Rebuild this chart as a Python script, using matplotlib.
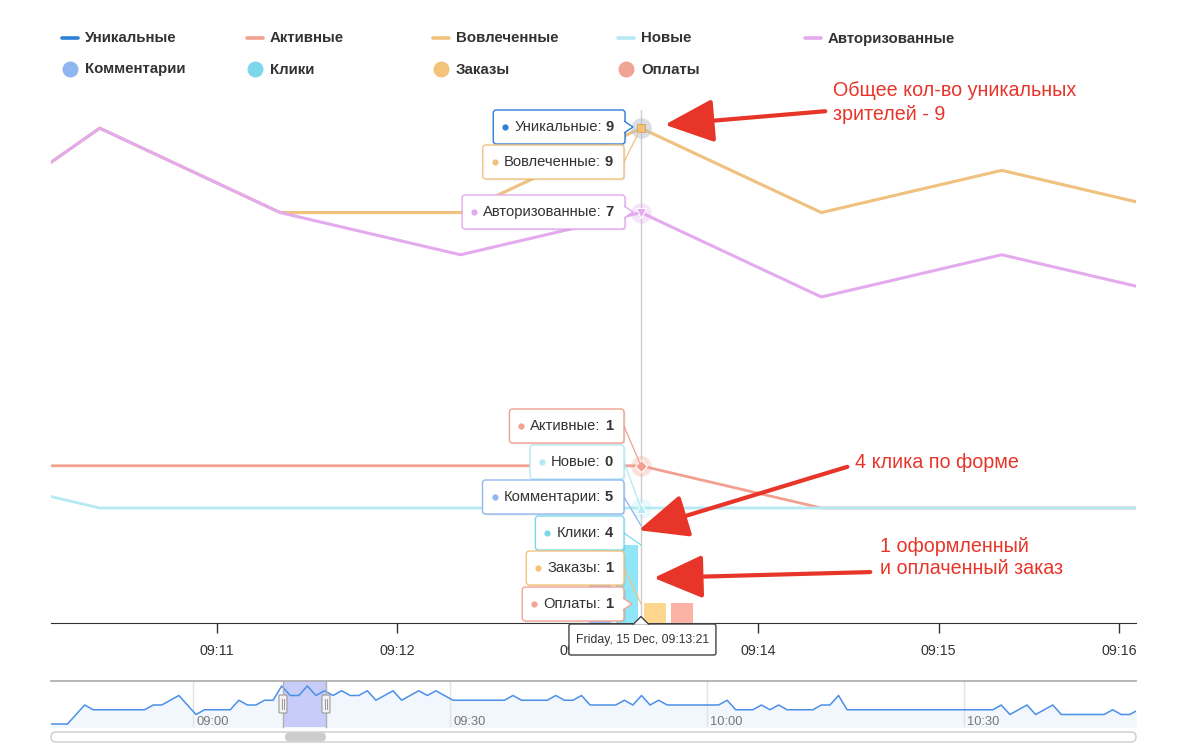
import matplotlib.pyplot as plt
from matplotlib.patches import FancyBboxPatch, Polygon, FancyArrowPatch
import numpy as np

plt.rcParams['font.family'] = ['Liberation Sans', 'DejaVu Sans']

# main chart: one point per minute
times = ['09:09:21', '09:10:21', '09:11:21', '09:12:21', '09:13:21',
         '09:14:21', '09:15:21', '09:16:21']
engaged = [6, 9, 7, 7, 9, 7, 8, 7]
authorized = [6, 9, 7, 6, 7, 5, 6, 5]
active = [1, 1, 1, 1, 1, 0, 0, 0]
new = [1, 0, 0, 0, 0, 0, 0, 0]
comments = [0, 0, 0, 0, 5, 0, 0, 0]
clicks = [0, 0, 0, 0, 4, 0, 0, 0]
orders = [0, 0, 0, 0, 1, 0, 0, 0]
payments = [0, 0, 0, 0, 1, 0, 0, 0]

# unique viewers, whole session (also shown in the navigator)
unique_start = '08:43:21'
unique = [1, 1, 1, 3, 5, 4, 4, 4, 4, 4, 4, 4, 5, 5, 6, 7, 5, 3, 4, 4,
          4, 4, 6, 5, 5, 6, 6, 9, 7, 7, 9, 7, 8, 7, 8, 7, 7, 8, 6, 7,
          8, 6, 7, 8, 7, 8, 7, 6, 6, 6, 6, 6, 6, 6, 7, 6, 6, 6, 6, 7,
          6, 6, 7, 5, 5, 5, 5, 6, 5, 7, 5, 6, 5, 5, 5, 5, 5, 5, 5, 6,
          4, 4, 4, 5, 4, 5, 4, 4, 4, 4, 5, 5, 7, 4, 4, 4, 4, 4, 4, 4,
          4, 4, 4, 4, 4, 4, 4, 4, 4, 4, 4, 5, 3, 4, 5, 3, 4, 5, 3, 3,
          3, 3, 3, 3, 4, 3, 3, 4]

line_names = ['Уникальные', 'Активные', 'Вовлеченные', 'Новые', 'Авторизованные']
line_colors = ['#2f7ed8', '#f2a090', '#f1c27d', '#b5e9f4', '#e3aaee']
bar_names = ['Комментарии', 'Клики', 'Заказы', 'Оплаты']
bar_legend_colors = ['#8fb6f1', '#7dd7ea', '#f3c37c', '#f1a394']
bar_colors = ['#9cc0f4', '#8fe6f8', '#fdd78e', '#fcb2a4']

hover_time = '09:13:21'
hover_label = 'Friday, 15 Dec, 09:13:21'
tick_labels = ['09:11', '09:12', '09:13', '09:14', '09:15', '09:16']
nav_ticks = ['09:00', '09:30', '10:00', '10:30']
nav_window = ('09:10:30', '09:15:31')


def mins(s):
    p = [int(v) for v in s.split(':')]
    return (p[0] - 9) * 60 + p[1] + (p[2] / 60 if len(p) > 2 else 0)


W, H = 1199, 745
fig = plt.figure(figsize=(W / 100, H / 100), dpi=100)


def box(l, t, r, b):
    return [l / W, 1 - b / H, (r - l) / W, (b - t) / H]


x = np.array([mins(t) for t in times])
xu = mins(unique_start) + np.arange(len(unique))
xh = mins(hover_time)
ih = times.index(hover_time)
uh = unique[int(np.argmin(np.abs(xu - xh)))]

# ---- main chart
ax = fig.add_axes(box(51, 110, 1136, 623))
ax.set_xlim(10.08, 16.094)
ax.set_ylim(-2.725, 9.43)
for s in ['top', 'left', 'right']:
    ax.spines[s].set_visible(False)
ax.spines['bottom'].set_color('#333333')
ax.set_yticks([])
ax.set_xticks([mins(t) for t in tick_labels])
ax.set_xticklabels(tick_labels, fontsize=10.3, color='#333333')
ax.tick_params(axis='x', length=7, width=1, color='#333333', pad=8)

ax.axvline(xh, color='#cccccc', lw=1, zorder=1)
ax.plot(xu, unique, color=line_colors[0], lw=1.4, zorder=2)
ax.plot(x, active, color=line_colors[1], lw=2.0, zorder=2)
ax.plot(x, engaged, color=line_colors[2], lw=2.2, zorder=3)
ax.plot(x, new, color=line_colors[3], lw=2.0, zorder=3)
ax.plot(x, authorized, color=line_colors[4], lw=2.2, zorder=4)

ax.scatter([xh], [uh], s=220, color='#b8bfd0', alpha=0.5, lw=0, zorder=5)
ax.plot(xh, engaged[ih], 's', ms=6, color=line_colors[2], mec='#d9a24c', mew=0.6, zorder=6)
for vals, col, mk in [(authorized, line_colors[4], 'v'), (active, line_colors[1], 'D'),
                      (new, line_colors[3], '^')]:
    ax.scatter([xh], [vals[ih]], s=220, color=col, alpha=0.3, lw=0, zorder=5)
    ax.plot(xh, vals[ih], mk, ms=6 if mk == 'D' else 7, color=col, mec='white', mew=0.8, zorder=6)

ax2 = ax.twinx()
ax2.set_ylim(0, 26.3)
ax2.set_yticks([])
for s in ax2.spines.values():
    s.set_visible(False)
step, bw = 0.1524, 0.122
for i, (vals, col) in enumerate(zip([comments, clicks, orders, payments], bar_colors)):
    ax2.bar(x + (i - 1.5) * step, vals, width=bw, color=col, lw=0, zorder=2)

# ---- navigator
nav = fig.add_axes(box(51, 681, 1136, 727))
nav.set_xlim(-16.575, 110.07)
nav.set_ylim(0.37, 10.05)
nav.axis('off')
nav.fill_between(xu, unique, 0, color='#f2f6fd', lw=0, zorder=1)
nav.axvspan(mins(nav_window[0]), mins(nav_window[1]), color='#c7cdf8', zorder=2, lw=0)
for t in nav_ticks:
    nav.axvline(mins(t), color='#e3e3e3', lw=1, zorder=2)
    nav.text(mins(t) + 0.4, 1.5, t, fontsize=9.3, color='#777777', ha='left', va='center', zorder=3)
nav.plot(xu, unique, color='#4a8fe8', lw=1.1, zorder=4)

# ---- overlay in pixel coordinates (legend, tooltips, notes)
ov = fig.add_axes([0, 0, 1, 1], zorder=10)
ov.set_xlim(0, W)
ov.set_ylim(H, 0)
ov.axis('off')
ov.patch.set_alpha(0)


def px(a, xv, yv):
    dx, dy = a.transData.transform((xv, yv))
    return dx, H - dy


# legend
cols = [62, 247, 433, 618, 805]
for cx, name, col in zip(cols, line_names, line_colors):
    ov.plot([cx, cx + 16], [38, 38], color=col, lw=2.6, solid_capstyle='round')
    ov.text(cx + 23, 38.5, name, fontsize=10.8, fontweight='bold', color='#333333', va='center')
for cx, name, col in zip(cols, bar_names, bar_legend_colors):
    ov.plot(cx + 8, 69, 'o', ms=11.5, color=col, mew=0)
    ov.text(cx + 23, 69.5, name, fontsize=10.8, fontweight='bold', color='#333333', va='center')

# navigator outline, handles, scrollbar
l_sel, _ = px(nav, mins(nav_window[0]), 1)
r_sel, _ = px(nav, mins(nav_window[1]), 1)
ov.plot([51, 1136], [681, 681], color='#b0b0b0', lw=1.3)
for xs in (l_sel, r_sel):
    ov.plot([xs, xs], [681, 727], color='#b0b0b0', lw=1)
    ov.add_patch(FancyBboxPatch((xs - 4, 695), 8, 18, boxstyle='round,pad=0,rounding_size=1',
                                fc='#f2f2f2', ec='#999999', lw=0.8, zorder=5))
    ov.plot([xs - 1.3, xs - 1.3], [699, 709], color='#999999', lw=0.7, zorder=6)
    ov.plot([xs + 1.3, xs + 1.3], [699, 709], color='#999999', lw=0.7, zorder=6)
ov.add_patch(FancyBboxPatch((51, 732), 1085, 10, boxstyle='round,pad=0,rounding_size=5',
                            fc='white', ec='#cccccc', lw=1))
ov.add_patch(FancyBboxPatch((l_sel + 2, 732.5), r_sel - l_sel - 2, 9,
                            boxstyle='round,pad=0,rounding_size=4.5', fc='#cccccc', ec='none'))

# split tooltips
rend = fig.canvas.get_renderer()


def tip(right, cy, col, name, value, target, notch=False, z=5):
    tx, ty = target
    if not notch:
        ov.plot([right, tx], [cy, ty], color=col, lw=0.9, zorder=z)
    tv = ov.text(right - 11, cy, str(value), ha='right', va='center', fontsize=10.6,
                 fontweight='bold', color='#333333', zorder=z + 0.3)
    wv = tv.get_window_extent(rend).width
    tl = ov.text(right - 15 - wv, cy, name + ':', ha='right', va='center', fontsize=10.6,
                 color='#333333', zorder=z + 0.3)
    wl = tl.get_window_extent(rend).width
    left_txt = right - 15 - wv - wl
    ov.plot(left_txt - 9, cy, 'o', ms=4.5, color=col, mew=0, zorder=z + 0.3)
    x0 = left_txt - 21
    ov.add_patch(FancyBboxPatch((x0 + 1.5, cy - 15.5), right - x0, 34,
                                boxstyle='round,pad=0,rounding_size=3', fc='#000000',
                                alpha=0.08, ec='none', zorder=z))
    ov.add_patch(FancyBboxPatch((x0, cy - 17), right - x0, 34,
                                boxstyle='round,pad=0,rounding_size=3', fc='white',
                                ec=col, lw=1, zorder=z + 0.1))
    if notch:
        ov.add_patch(Polygon([(right - 1, cy - 6), (right + 8, cy), (right - 1, cy + 6)],
                             closed=False, fc='white', ec=col, lw=1, zorder=z + 0.2))


ph = lambda v: px(ax, xh, v)
hx, _ = ph(0)
right_edge = 625
tip(right_edge, 127, line_colors[0], line_names[0], uh, ph(uh), notch=True, z=5)
tip(right_edge - 1, 162, line_colors[2], line_names[2], engaged[ih], ph(engaged[ih]), z=6)
tip(right_edge, 212, line_colors[4], line_names[4], authorized[ih], ph(authorized[ih]), notch=True, z=7)
tip(right_edge - 1, 426, line_colors[1], line_names[1], active[ih], ph(active[ih]), z=8)
tip(right_edge - 1, 462, line_colors[3], line_names[3], new[ih], ph(new[ih]), z=9)
for i, (vals, cy) in enumerate(zip([comments, clicks, orders, payments], [497, 533, 568, 604])):
    tip(right_edge - 1, cy, bar_legend_colors[i], bar_names[i], vals[ih],
        (hx, px(ax2, xh, vals[ih])[1]), notch=(i == 3), z=10 + i)

# date tooltip under the axis
ov.add_patch(FancyBboxPatch((hx - 72, 624), 147, 31, boxstyle='round,pad=0,rounding_size=2',
                            fc='white', ec='#444444', lw=1, zorder=20))
ov.add_patch(Polygon([(hx - 8, 624.6), (hx, 616.5), (hx + 8, 624.6)], closed=False,
                     fc='white', ec='#444444', lw=1, zorder=20.5))
ov.text(hx + 1.5, 640, hover_label, ha='center', va='center', fontsize=8.8,
        color='#333333', zorder=21)

# notes
red = '#e8352a'
ov.text(833, 91, 'Общее кол-во уникальных', fontsize=14.2, color=red, va='center')
ov.text(833, 114, 'зрителей - 9', fontsize=14.2, color=red, va='center')
ov.text(855, 462, '4 клика по форме', fontsize=14.2, color=red, va='center')
ov.text(880, 547, '1 оформленный', fontsize=14.2, color=red, va='center')
ov.text(880, 569, 'и оплаченный заказ', fontsize=14.2, color=red, va='center')
for tail, head in [((828, 111), (662, 125)), ((850, 466), (636, 531)), ((873, 572), (651, 578))]:
    ov.add_patch(FancyArrowPatch(tail, head, arrowstyle='-|>,head_length=1.7,head_width=0.75',
                                 mutation_scale=18, color=red, lw=3, zorder=30))

fig.savefig('out.png', dpi=100)
